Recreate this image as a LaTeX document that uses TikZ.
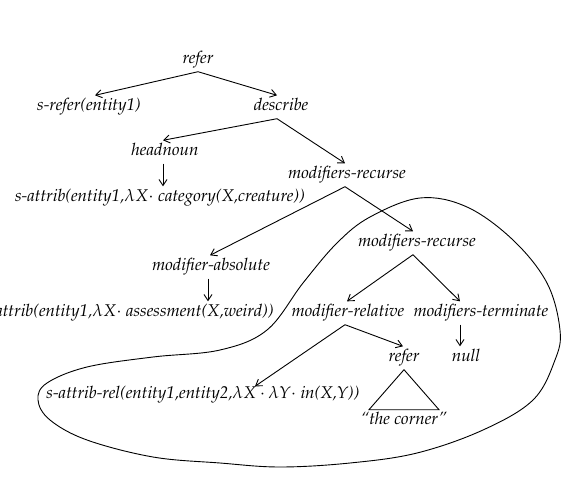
\documentclass[tikz,border=0pt]{standalone}
\usepackage[T1]{fontenc}
\usepackage{mathpazo}
\usetikzlibrary{calc,arrows.meta}
\begin{document}
\begin{tikzpicture}[x=1pt,y=-1pt,
  lbl/.style={inner xsep=0pt,inner ysep=5pt,text height=10pt,text depth=3pt,font=\fontsize{17}{20}\selectfont\itshape},
  arr/.style={-{Straight Barb[length=6pt,width=8pt]},line width=0.9pt},
  loopline/.style={line width=0.9pt}]
\useasboundingbox (0,0) rectangle (566,480);
\node[lbl] (refer) at (198,60) {refer};
\node[lbl] (srefer) at (89,107) {s-refer(entity1)};
\node[lbl] (describe) at (281,107) {describe};
\node[lbl] (headnoun) at (165,152) {headnoun};
\node[lbl] (sattrib) at (160,198) {s-attrib(entity1,$\lambda X\cdot$ category(X,creature))};
\node[lbl] (mrone) at (347,175) {modifiers-recurse};
\node[lbl] (mrtwo) at (417,243) {modifiers-recurse};
\node[lbl] (modabs) at (211,267) {modifier-absolute};
\node[lbl,anchor=east] (sattribtwo) at (274,313) {s-attrib(entity1,$\lambda X\cdot$ assessment(X,weird))};
\node[lbl] (modrel) at (348,313) {modifier-relative};
\node[lbl] (modterm) at (481,313) {modifiers-terminate};
\node[lbl] (refertwo) at (404,358) {refer};
\node[lbl] (null) at (466,358) {null};
\node[lbl] (sar) at (203,395) {s-attrib-rel(entity1,entity2,$\lambda X\cdot\lambda Y\cdot$ in(X,Y))};
\coordinate (tl) at ($(refertwo.south)+(-35,40)$);
\coordinate (tr) at ($(refertwo.south)+(35,40)$);
\draw[line width=0.9pt,line join=miter] (refertwo.south) -- (tl) -- (tr) -- cycle;
\node[lbl,anchor=north] (corner) at ($(tl)!0.5!(tr)+(0,0)$) {``the corner''};
% arrows
\draw[arr] (refer.south) -- ([xshift=6pt]srefer.north);
\draw[arr] (refer.south) -- ([xshift=-4pt]describe.north);
\draw[arr] ([xshift=-4pt]describe.south) -- ([xshift=-2pt]headnoun.north);
\draw[arr] ([xshift=-4pt]describe.south) -- ([xshift=-2pt]mrone.north);
\draw[arr] ([xshift=-2pt]headnoun.south) -- ([xshift=-2pt]headnoun.south |- sattrib.north);
\draw[arr] ([xshift=-2pt]mrone.south) -- ([xshift=-1pt]modabs.north);
\draw[arr] ([xshift=-2pt]mrone.south) -- ([xshift=-4pt]mrtwo.north);
\draw[arr] ([xshift=-3pt]modabs.south) -- ([xshift=-3pt]modabs.south |- sattribtwo.north);
\draw[arr] ([xshift=-4pt]mrtwo.south) -- ([xshift=-1pt]modrel.north);
\draw[arr] ([xshift=-4pt]mrtwo.south) -- ([xshift=-21pt]modterm.north);
\draw[arr] ([xshift=-21pt]modterm.south) -- ([xshift=-21pt]modterm.south |- null.north);
\draw[arr] ([xshift=-3pt]modrel.south) -- ([xshift=52pt,yshift=-3pt]sar.north);
\draw[arr] ([xshift=-3pt]modrel.south) -- ([xshift=-1pt]refertwo.north);
% loop
\draw[loopline] plot[smooth cycle,tension=0.6] coordinates {
 (420,198) (467,207) (513,240) (547,283) (560,330) (555,360) (533,400) (483,430)
 (417,453) (350,463) (280,467) (220,463) (153,457) (87,440) (50,420) (38,400)
 (47,383) (87,367) (153,357) (220,350) (267,330) (303,283) (337,243) (370,217)};
\end{tikzpicture}
\end{document}
